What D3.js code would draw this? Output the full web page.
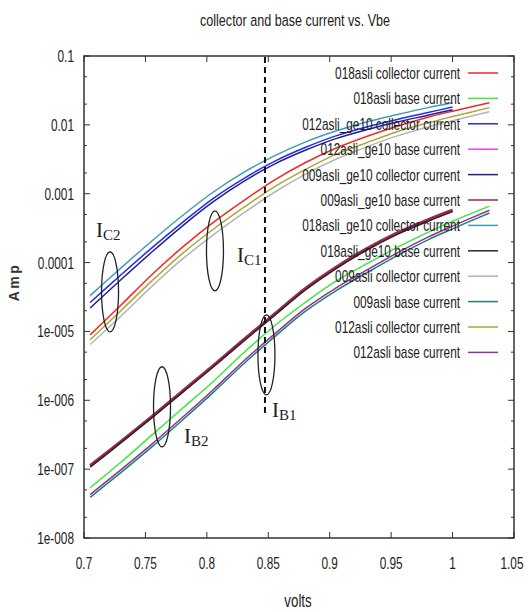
<!DOCTYPE html>
<html>
<head>
<meta charset="utf-8">
<script src="https://cdn.jsdelivr.net/npm/d3@7"></script>
<style>
  body { margin: 0; background: #fff; }
  svg { display: block; }
  .narrow { font-family: "Liberation Sans", Arial, sans-serif; fill: #222; }
  .serif { font-family: "Liberation Serif", "DejaVu Serif", serif; fill: #222; }
</style>
</head>
<body>
<div class="container"></div>
<script>
// Chart data (volts on x, amps on y)
const volts = [0.705, 0.73, 0.755, 0.78, 0.805, 0.83, 0.855, 0.88, 0.905, 0.93, 0.955, 0.98, 1.0, 1.03];

const ic018 = [8.91e-6, 2.40e-5, 6.61e-5, 1.66e-4, 3.80e-4, 7.94e-4, 1.58e-3, 2.82e-3, 4.57e-3, 6.76e-3, 9.55e-3, 1.29e-2, 1.58e-2, 2.09e-2];
const ib018 = [5.37e-8, 1.26e-7, 3.09e-7, 7.59e-7, 1.86e-6, 4.90e-6, 1.20e-5, 2.63e-5, 5.37e-5, 9.55e-5, 1.66e-4, 2.75e-4, 3.98e-4, 6.61e-4];
const ic012ge = [2.63e-5, 6.61e-5, 1.62e-4, 3.80e-4, 8.51e-4, 1.66e-3, 2.95e-3, 4.68e-3, 6.92e-3, 9.33e-3, 1.20e-2, 1.51e-2, 1.82e-2];
const ib012ge = [1.15e-7, 2.57e-7, 5.89e-7, 1.38e-6, 3.24e-6, 7.76e-6, 1.82e-5, 4.27e-5, 8.71e-5, 1.62e-4, 2.75e-4, 4.27e-4, 5.89e-4];
const ic009ge = [2.19e-5, 5.62e-5, 1.41e-4, 3.39e-4, 7.59e-4, 1.51e-3, 2.69e-3, 4.27e-3, 6.31e-3, 8.51e-3, 1.10e-2, 1.38e-2, 1.66e-2];
const ib009ge = [1.12e-7, 2.51e-7, 5.75e-7, 1.35e-6, 3.16e-6, 7.59e-6, 1.78e-5, 4.17e-5, 8.51e-5, 1.58e-4, 2.69e-4, 4.17e-4, 5.75e-4];
const ic018ge = [3.31e-5, 8.32e-5, 2.04e-4, 4.79e-4, 1.05e-3, 2.04e-3, 3.55e-3, 5.62e-3, 8.13e-3, 1.10e-2, 1.41e-2, 1.78e-2, 2.09e-2];
const ib018ge = [1.07e-7, 2.40e-7, 5.50e-7, 1.29e-6, 3.02e-6, 7.24e-6, 1.70e-5, 3.98e-5, 8.13e-5, 1.51e-4, 2.57e-4, 3.98e-4, 5.50e-4];
const ic009 = [6.46e-6, 1.66e-5, 4.47e-5, 1.12e-4, 2.51e-4, 5.25e-4, 1.05e-3, 1.91e-3, 3.16e-3, 4.79e-3, 6.92e-3, 9.33e-3, 1.15e-2, 1.55e-2];
const ib009 = [3.89e-8, 8.91e-8, 2.09e-7, 5.13e-7, 1.29e-6, 3.39e-6, 8.32e-6, 1.95e-5, 3.89e-5, 7.08e-5, 1.26e-4, 2.14e-4, 3.09e-4, 5.25e-4];
const ic012 = [7.59e-6, 2.00e-5, 5.37e-5, 1.35e-4, 3.02e-4, 6.31e-4, 1.26e-3, 2.24e-3, 3.72e-3, 5.50e-3, 7.94e-3, 1.07e-2, 1.32e-2, 1.78e-2];
const ib012 = [4.27e-8, 9.77e-8, 2.29e-7, 5.62e-7, 1.41e-6, 3.72e-6, 9.12e-6, 2.14e-5, 4.27e-5, 7.76e-5, 1.38e-4, 2.34e-4, 3.39e-4, 5.75e-4];

const seriesNames = [
  "018asli collector current", "018asli base current",
  "012asli_ge10 collector current", "012asli_ge10 base current",
  "009asli_ge10 collector current", "009asli_ge10 base current",
  "018asli_ge10 collector current", "018asli_ge10 base current",
  "009asli collector current", "009asli base current",
  "012asli collector current", "012asli base current",
];
const seriesValues = [ic018, ib018, ic012ge, ib012ge, ic009ge, ib009ge, ic018ge, ib018ge, ic009, ib009, ic012, ib012];
const seriesColors = ["#f02828", "#3ce83c", "#2828f0", "#f040f0", "#202090", "#a02848",
                      "#3c9cc0", "#282828", "#b4b4b4", "#208070", "#a8a838", "#9030a0"];

const xTicks = [0.7, 0.75, 0.8, 0.85, 0.9, 0.95, 1.0, 1.05];
const xTickLabels = ["0.7", "0.75", "0.8", "0.85", "0.9", "0.95", "1", "1.05"];
const yTicks = [0.1, 0.01, 0.001, 0.0001, 1e-5, 1e-6, 1e-7, 1e-8];
const yTickLabels = ["0.1", "0.01", "0.001", "0.0001", "1e-005", "1e-006", "1e-007", "1e-008"];

// Hand-drawn ellipses and labels: [sub, ellipse volts, ellipse amps, label volts, label amps]
const notes = [
  ["C2", 0.7212, 3.76e-5, 0.7098, 2.36e-4],
  ["C1", 0.8066, 1.48e-4, 0.8245, 1.02e-4],
  ["B2", 0.7635, 8.05e-7, 0.7814, 2.42e-7],
  ["B1", 0.8485, 4.57e-6, 0.8530, 5.75e-7],
];
const markerVolts = 0.8473;

// Layout
const WIDTH = 528;
const HEIGHT = 612;
const SQUEEZE = 0.74; // the original uses a very condensed sans
const plot = { left: 84, right: 514, top: 56, bottom: 538 };

const svg = d3.select(".container").append("svg")
  .attr("width", WIDTH).attr("height", HEIGHT);

const x = d3.scaleLinear().domain([0.7, 1.05]).range([plot.left, plot.right]);
const y = d3.scaleLog().domain([1e-8, 0.1]).range([plot.bottom, plot.top]);

// squeeze text horizontally around its anchor point
const condense = (sel) => sel.each(function () {
  const t = d3.select(this);
  const tx = +t.attr("x");
  const ty = +t.attr("y");
  t.attr("x", 0).attr("y", 0)
    .attr("transform", `translate(${tx},${ty}) scale(${SQUEEZE},1)`);
});

// Title and axis labels
svg.append("text").attr("class", "narrow")
  .attr("x", 295).attr("y", 26).attr("text-anchor", "middle")
  .attr("font-size", 17).text("collector and base current vs. Vbe")
  .call(condense);

svg.append("text").attr("class", "narrow")
  .attr("x", 298).attr("y", 607).attr("text-anchor", "middle")
  .attr("font-size", 18).text("volts")
  .call(condense);

svg.append("text")
  .attr("transform", "translate(19,282) rotate(-90)")
  .attr("text-anchor", "middle")
  .attr("font-family", "Liberation Sans, Arial, sans-serif")
  .attr("font-size", 14).attr("font-weight", "bold").attr("letter-spacing", 2.5).attr("fill", "#333")
  .text("Amp");

// Ticks, inward, mirrored on top and right
const ticks = svg.append("g").attr("stroke", "#333").attr("stroke-width", 1);
xTicks.forEach((v) => {
  ticks.append("line").attr("x1", x(v)).attr("x2", x(v)).attr("y1", plot.bottom).attr("y2", plot.bottom - 6);
  ticks.append("line").attr("x1", x(v)).attr("x2", x(v)).attr("y1", plot.top).attr("y2", plot.top + 6);
});
yTicks.forEach((v) => {
  ticks.append("line").attr("x1", plot.left).attr("x2", plot.left + 6).attr("y1", y(v)).attr("y2", y(v));
  ticks.append("line").attr("x1", plot.right).attr("x2", plot.right - 6).attr("y1", y(v)).attr("y2", y(v));
  // minor ticks at 2x and 5x
  [2, 5].forEach((m) => {
    const mv = v * m;
    if (mv < 0.1) {
      ticks.append("line").attr("x1", plot.left).attr("x2", plot.left + 3).attr("y1", y(mv)).attr("y2", y(mv));
      ticks.append("line").attr("x1", plot.right).attr("x2", plot.right - 3).attr("y1", y(mv)).attr("y2", y(mv));
    }
  });
});

// Tick labels
svg.append("g").selectAll("text").data(xTicks).join("text")
  .attr("class", "narrow").attr("font-size", 16)
  .attr("x", (d, i) => (i === xTicks.length - 1 ? x(d) - 2 : x(d))).attr("y", 569)
  .attr("text-anchor", "middle")
  .text((d, i) => xTickLabels[i])
  .call(condense);

svg.append("g").selectAll("text").data(yTicks).join("text")
  .attr("class", "narrow").attr("font-size", 16)
  .attr("x", 74).attr("y", (d) => y(d) + 6).attr("text-anchor", "end")
  .text((d, i) => yTickLabels[i])
  .call(condense);

// Curves
const line = d3.line()
  .x((d) => x(d[0]))
  .y((d) => y(d[1]))
  .curve(d3.curveCatmullRom);

const curves = svg.append("g").attr("fill", "none");
seriesValues.forEach((vals, i) => {
  const pts = vals.map((v, j) => [volts[j], v]);
  curves.append("path")
    .attr("d", line(pts))
    .attr("stroke", seriesColors[i])
    .attr("stroke-width", i === 5 ? 3 : 1.5);
});

// Legend
const legend = svg.append("g");
seriesNames.forEach((name, i) => {
  const ly = 73 + i * 25.4;
  legend.append("text").attr("class", "narrow").attr("font-size", 16)
    .attr("x", 460).attr("y", ly + 6).attr("text-anchor", "end").text(name)
    .call(condense);
  legend.append("line")
    .attr("x1", 468).attr("x2", 498).attr("y1", ly).attr("y2", ly)
    .attr("stroke", seriesColors[i]).attr("stroke-width", 1.5);
});

// Frame
svg.append("rect")
  .attr("x", plot.left).attr("y", plot.top)
  .attr("width", plot.right - plot.left).attr("height", plot.bottom - plot.top)
  .attr("fill", "none").attr("stroke", "#333").attr("stroke-width", 1.5);

// Dashed marker line at the chosen Vbe
svg.append("line")
  .attr("x1", x(markerVolts)).attr("x2", x(markerVolts))
  .attr("y1", plot.top + 1).attr("y2", 417)
  .attr("stroke", "#111").attr("stroke-width", 2).attr("stroke-dasharray", "6,4");

// Ellipses and I labels
const ann = svg.append("g");
notes.forEach(([sub, ev, ea, lv, la]) => {
  ann.append("ellipse")
    .attr("cx", x(ev)).attr("cy", y(ea)).attr("rx", 8.5).attr("ry", 40)
    .attr("fill", "none").attr("stroke", "#222").attr("stroke-width", 1.3);
  const t = ann.append("text").attr("class", "serif")
    .attr("x", x(lv)).attr("y", y(la)).attr("font-size", 21);
  t.append("tspan").text("I");
  t.append("tspan").attr("font-size", 15).attr("dy", 3).text(sub);
});
</script>
</body>
</html>
